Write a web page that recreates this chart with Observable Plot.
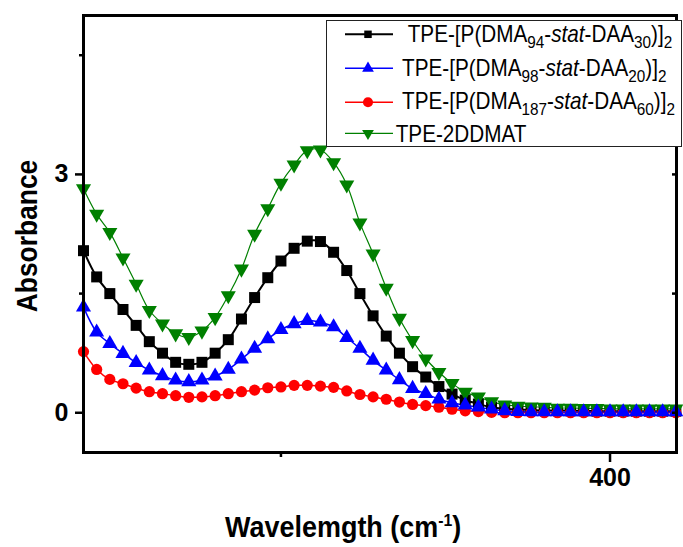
<!DOCTYPE html>
<html><head><meta charset="utf-8">
<script src="https://cdn.jsdelivr.net/npm/d3@7"></script>
<script src="https://cdn.jsdelivr.net/npm/@observablehq/plot@0.6"></script>
<style>
body{margin:0;background:#fff}
#chart{position:relative;width:683px;height:547px}
</style>
</head><body><div id="chart"></div>
<script>
// Wavelength grid (nm) and absorbance values
const wavelength = [320,322,324,326,328,330,332,334,336,338,340,342,344,346,348,350,352,354,356,358,360,362,364,366,368,370,372,374,376,378,380,382,384,386,388,390,392,394,396,398,400,402,404,406,408,410];
const absP94 = [2.04,1.71,1.50,1.30,1.10,0.895,0.75,0.635,0.61,0.635,0.75,0.92,1.18,1.45,1.70,1.91,2.07,2.16,2.155,2.02,1.79,1.50,1.22,0.965,0.75,0.58,0.45,0.33,0.235,0.16,0.11,0.07,0.05,0.04,0.035,0.03,0.03,0.025,0.025,0.02,0.02,0.02,0.02,0.02,0.02,0.02];
const absP98 = [1.33,1.015,0.87,0.745,0.63,0.535,0.465,0.41,0.39,0.41,0.46,0.545,0.675,0.81,0.93,1.045,1.12,1.16,1.14,1.08,0.945,0.81,0.66,0.535,0.415,0.305,0.24,0.17,0.125,0.095,0.07,0.045,0.025,0.015,0.01,0.01,0.01,0.01,0.01,0.01,0.01,0.01,0.01,0.01,0.01,0.01];
const absP187 = [0.77,0.545,0.42,0.365,0.31,0.265,0.24,0.215,0.195,0.20,0.215,0.24,0.265,0.285,0.315,0.325,0.345,0.345,0.335,0.32,0.275,0.23,0.20,0.17,0.135,0.105,0.09,0.07,0.045,0.025,0.015,0.005,0.0,0.0,0.0,0.0,0.0,0.0,0.0,0.0,0.0,0.0,0.0,0.0,0.0,0.0];
const absDDMAT = [2.82,2.50,2.27,1.95,1.62,1.29,1.12,0.995,0.95,1.03,1.20,1.475,1.81,2.25,2.57,2.89,3.12,3.30,3.31,3.15,2.87,2.39,2.00,1.57,1.19,0.91,0.68,0.51,0.37,0.26,0.20,0.14,0.10,0.085,0.075,0.07,0.06,0.06,0.055,0.055,0.05,0.05,0.05,0.05,0.05,0.05];

const yMajorTicks = [0, 3];
const yMinorTicks = [1.5, 4.5];
const xMajorTicks = [400];
const xMinorTicks = [350];

const seriesDefs = [
  {key:"P94", values:absP94, color:"#000000", symbol:"square", r:6.2, rotate:0, width:2},
  {key:"P187", values:absP187, color:"#ff0000", symbol:"circle", r:5.6, rotate:0, width:1.5},
  {key:"DDMAT", values:absDDMAT, color:"#008000", symbol:"triangle", r:5.6, rotate:180, width:1.2},
  {key:"P98", values:absP98, color:"#0000ff", symbol:"triangle", r:5.6, rotate:0, width:1.5}
];

const marks = [];
for (const s of seriesDefs) {
  const data = wavelength.map((w,i)=>({w, a:s.values[i]}));
  marks.push(Plot.line(data, {x:"w", y:"a", stroke:s.color, strokeWidth:s.width, curve:"catmull-rom"}));
}
for (const s of seriesDefs) {
  const data = wavelength.map((w,i)=>({w, a:s.values[i]}));
  marks.push(Plot.dot(data, {x:"w", y:"a", symbol:s.symbol, r:s.r, fill:s.color, stroke:"none", rotate:s.rotate}));
}

const fontFam = "'Liberation Sans', Arial, sans-serif";
const chart = Plot.plot({
  width: 683, height: 547,
  marginLeft: 83, marginRight: 7, marginTop: 15, marginBottom: 95,
  style: {fontFamily: fontFam, background:"#fff", overflow:"visible"},
  x: {domain:[320, 410.1]},
  y: {domain:[-0.5, 5]},
  marks: [
    ...marks,
    Plot.frame({stroke:"#000", strokeWidth:3}),
    Plot.axisY(yMajorTicks, {tickSize:8, tickPadding:7, strokeWidth:2.5, fontSize:25, fontWeight:"bold", fill:"#000", tickFormat:d=>String(d), label:null}),
    Plot.axisY(yMinorTicks, {tickSize:4, strokeWidth:2.5, tickFormat:()=>"", label:null}),
    Plot.axisY([...yMajorTicks, ...yMinorTicks], {anchor:"right", tickSize:-5, strokeWidth:2.5, tickFormat:()=>"", label:null}),
    Plot.axisX(xMajorTicks, {tickSize:10, tickPadding:6, strokeWidth:2.5, fontSize:25, fontWeight:"bold", fill:"#000", tickFormat:d=>String(d), label:null}),
    Plot.axisX(xMinorTicks, {tickSize:5, strokeWidth:2.5, tickFormat:()=>"", label:null})
  ]
});
document.getElementById("chart").appendChild(chart);

const svg = d3.select(chart);
// Y axis title
svg.append("text")
  .attr("transform","translate(37,236) rotate(-90) scale(0.88,1)")
  .attr("text-anchor","middle")
  .style("font-family",fontFam).style("font-weight","bold").style("font-size","30px").attr("fill","#000")
  .text("Absorbance");
// X axis title
const xt = svg.append("text")
  .attr("transform","translate(225,537) scale(0.93,1)")
  .attr("text-anchor","start")
  .style("font-family",fontFam).style("font-weight","bold").style("font-size","29px").attr("fill","#000");
xt.append("tspan").text("Wavelemgth (cm");
xt.append("tspan").attr("dy",-11).style("font-size","17px").text("-1");
xt.append("tspan").attr("dy",11).text(")");

// Legend
const legendRows = [
  {color:"#000000", sym:d3.symbolSquare, size:56, rotate:0, width:2, lineY:34.3, baseY:42.3, textX:407.7,
   parts:[["TPE-[P(DMA",""],["94","sub"],["-",""],["stat","it"],["-DAA",""],["30","sub"],[")]",""],["2","sub"]]},
  {color:"#0000ff", sym:d3.symbolTriangle, size:60, rotate:0, width:1.5, lineY:68.3, baseY:75.7, textX:402,
   parts:[["TPE-[P(DMA",""],["98","sub"],["-",""],["stat","it"],["-DAA",""],["20","sub"],[")]",""],["2","sub"]]},
  {color:"#ff0000", sym:d3.symbolCircle, size:80, rotate:0, width:1.5, lineY:102.3, baseY:109, textX:402,
   parts:[["TPE-[P(DMA",""],["187","sub"],["-",""],["stat","it"],["-DAA",""],["60","sub"],[")]",""],["2","sub"]]},
  {color:"#008000", sym:d3.symbolTriangle, size:60, rotate:180, width:1.2, lineY:133.3, baseY:141.7, textX:395.7,
   parts:[["TPE-2DDMAT",""]]}
];
const lg = svg.append("g");
lg.append("rect").attr("x",326.5).attr("y",20.5).attr("width",355).attr("height",126)
  .attr("fill","#fff").attr("stroke","#222").attr("stroke-width",1);
for (const row of legendRows) {
  lg.append("line").attr("x1",345).attr("x2",393).attr("y1",row.lineY).attr("y2",row.lineY)
    .attr("stroke",row.color).attr("stroke-width",row.width);
  lg.append("path").attr("d", d3.symbol(row.sym, row.size)())
    .attr("transform",`translate(368,${row.lineY}) rotate(${row.rotate})`).attr("fill",row.color);
  const t = lg.append("text").attr("transform",`translate(${row.textX},${row.baseY}) scale(0.9,1)`)
    .attr("text-anchor","start")
    .style("font-family",fontFam).style("font-size","23px").attr("fill","#000");
  let shifted = false;
  for (const [str, kind] of row.parts) {
    const ts = t.append("tspan").text(str);
    if (kind === "sub") {
      ts.style("font-size","17px").attr("dy", shifted ? 0 : 6);
      shifted = true;
    } else {
      if (shifted) { ts.attr("dy",-6); shifted = false; }
      if (kind === "it") ts.style("font-style","italic");
    }
  }
}
</script>
</body></html>
